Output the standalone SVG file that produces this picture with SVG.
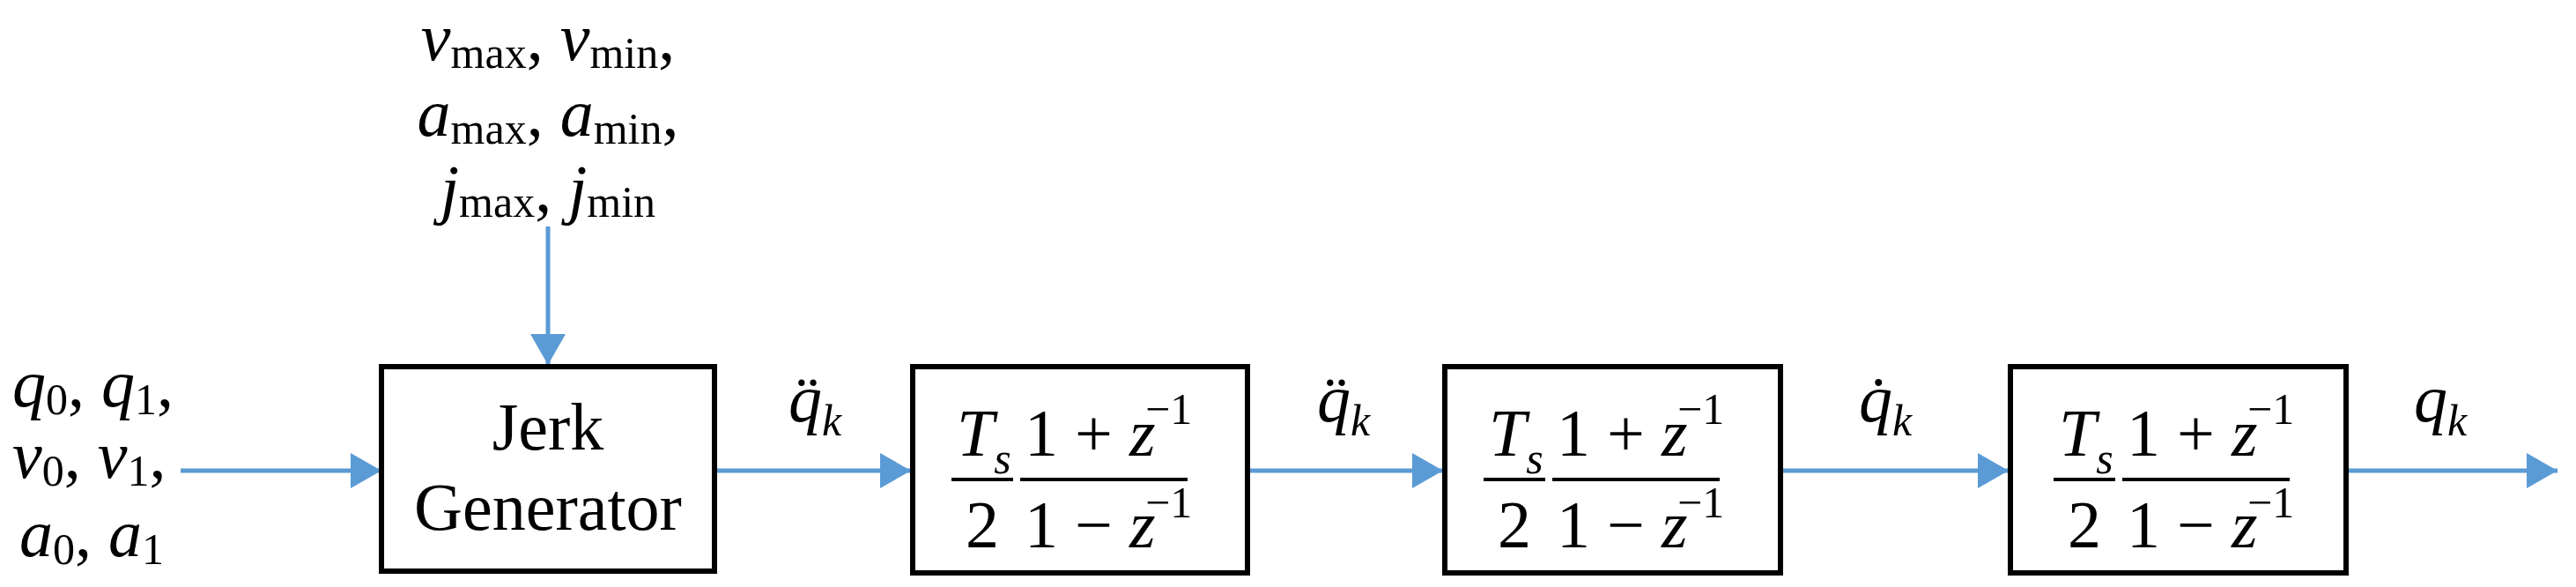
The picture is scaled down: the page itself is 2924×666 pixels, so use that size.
<svg xmlns="http://www.w3.org/2000/svg" width="2924" height="666" viewBox="0 0 2924 666" font-family="'Liberation Serif', 'Times New Roman', serif">
<style>
text{font-family:'Liberation Serif','Times New Roman',serif;fill:#000}
.i{font-style:italic}
.big{font-size:76px}
.sub{font-size:50px}
.box{fill:#fff;stroke:#000;stroke-width:6}
.ln{stroke:#5B9BD5;stroke-width:5;fill:none}
.bar{stroke:#000;stroke-width:4}
</style>
<defs>
<marker id="ah" markerUnits="userSpaceOnUse" markerWidth="36" markerHeight="40" refX="35" refY="20" orient="auto">
<path d="M0,0 L35,20 L0,40 Z" fill="#5B9BD5"/>
</marker>
<g id="tf">
<text class="big" x="0" y="0"><tspan class="i">T</tspan><tspan class="sub i" dy="20">s</tspan></text>
<line class="bar" x1="-6" y1="27" x2="64" y2="27"/>
<text class="big" x="29" y="104" text-anchor="middle">2</text>
<line class="bar" x1="72" y1="27" x2="262" y2="27"/>
<text class="big" x="77" y="0">1 + <tspan class="i">z</tspan></text>
<text class="sub" x="214" y="-36">−1</text>
<text class="big" x="77" y="104">1 − <tspan class="i">z</tspan></text>
<text class="sub" x="214" y="70">−1</text>
</g>
</defs>
<g id="connectors">
<line class="ln" x1="205" y1="534" x2="433" y2="534" marker-end="url(#ah)"/>
<line class="ln" x1="622" y1="257" x2="622" y2="414" marker-end="url(#ah)"/>
<line class="ln" x1="811" y1="534" x2="1034" y2="534" marker-end="url(#ah)"/>
<line class="ln" x1="1416" y1="534" x2="1638" y2="534" marker-end="url(#ah)"/>
<line class="ln" x1="2021" y1="534" x2="2280" y2="534" marker-end="url(#ah)"/>
<line class="ln" x1="2663" y1="534" x2="2903" y2="534" marker-end="url(#ah)"/>
</g>
<g id="limits">
<text class="big" x="622" y="68" text-anchor="middle"><tspan class="i">v</tspan><tspan class="sub" dy="9">max</tspan><tspan dy="-9">, </tspan><tspan class="i">v</tspan><tspan class="sub" dy="9">min</tspan><tspan dy="-9">,</tspan></text>
<text class="big" x="622" y="154" text-anchor="middle"><tspan class="i">a</tspan><tspan class="sub" dy="9">max</tspan><tspan dy="-9">, </tspan><tspan class="i">a</tspan><tspan class="sub" dy="9">min</tspan><tspan dy="-9">,</tspan></text>
<text class="big" x="622" y="240" text-anchor="middle"><tspan class="i">j</tspan><tspan class="sub" dy="6">max</tspan><tspan dy="-6">, </tspan><tspan class="i">j</tspan><tspan class="sub" dy="6">min</tspan></text>
</g>
<g id="inputs">
<text class="big" x="14" y="461"><tspan class="i">q</tspan><tspan class="sub" dy="9">0</tspan><tspan dy="-9">, </tspan><tspan class="i">q</tspan><tspan class="sub" dy="9">1</tspan><tspan dy="-9">,</tspan></text>
<text class="big" x="14" y="542"><tspan class="i">v</tspan><tspan class="sub" dy="9">0</tspan><tspan dy="-9">, </tspan><tspan class="i">v</tspan><tspan class="sub" dy="9">1</tspan><tspan dy="-9">,</tspan></text>
<text class="big" x="22" y="631"><tspan class="i">a</tspan><tspan class="sub" dy="9">0</tspan><tspan dy="-9">, </tspan><tspan class="i">a</tspan><tspan class="sub" dy="9">1</tspan></text>
</g>
<g id="jerk">
<rect class="box" x="433" y="416" width="378" height="232"/>
<text class="big" x="622" y="510" text-anchor="middle">Jerk</text>
<text class="big" x="622" y="601" text-anchor="middle">Generator</text>
</g>
<g id="lbl1"><text class="big i" x="895" y="478">q̈<tspan class="sub" dy="16">k</tspan></text></g>
<g id="int1">
<rect class="box" x="1036" y="416" width="380" height="234"/>
<use href="#tf" x="1086" y="517"/>
</g>
<g id="lbl2"><text class="big i" x="1495" y="478">q̈<tspan class="sub" dy="16">k</tspan></text></g>
<g id="int2">
<rect class="box" x="1640" y="416" width="381" height="234"/>
<use href="#tf" x="1690" y="517"/>
</g>
<g id="lbl3"><text class="big i" x="2110" y="478">q̇<tspan class="sub" dy="16">k</tspan></text></g>
<g id="int3">
<rect class="box" x="2282" y="416" width="381" height="234"/>
<use href="#tf" x="2337" y="517"/>
</g>
<g id="lbl4"><text class="big i" x="2740" y="478">q<tspan class="sub" dy="16">k</tspan></text></g>
</svg>
